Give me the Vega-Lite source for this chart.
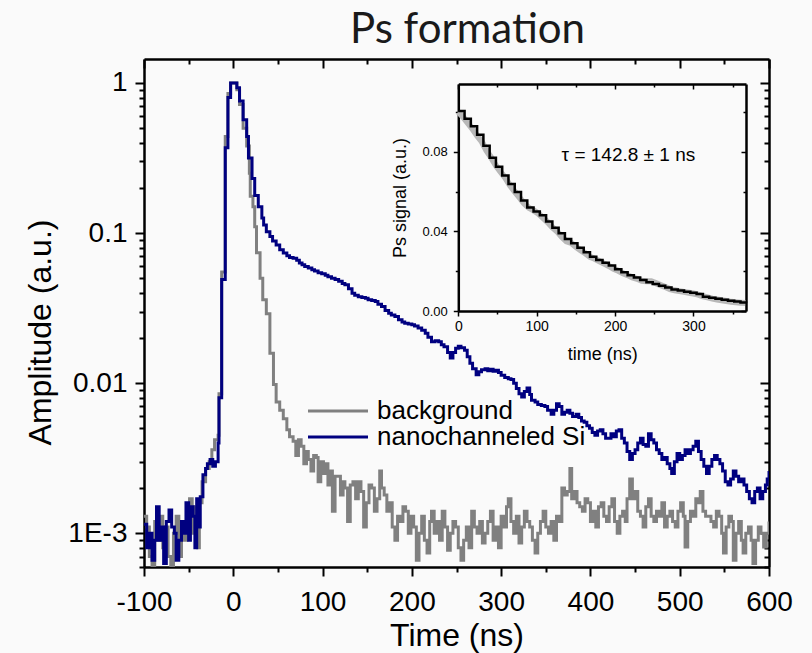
{
"$schema": "https://vega.github.io/schema/vega-lite/v6.json",
"width": 625, "height": 508,
"autosize": {"type": "none"},
"padding": {"left": 144, "top": 59, "right": 43, "bottom": 86},
"background": "#fafafa",
"config": {"view": {"stroke": null}, "font": "Liberation Sans",
  "axis": {"grid": false, "tickColor": "black", "domainColor": "black", "labelColor": "black", "titleColor": "black", "labelFont": "Liberation Sans", "titleFont": "Liberation Sans", "titleFontWeight": "normal", "zindex": 1, "tickWidth": 2, "domainWidth": 2.5, "labelFlush": false, "labelOverlap": false}},
"title": {"text": "Ps formation", "font": "Lato", "fontSize": 42, "fontWeight": "normal", "color": "#1a1a1a", "anchor": "middle", "dx": 11, "offset": -27, "baseline": "alphabetic"},
"datasets": {
"main": [
{"s":"background","t":-100,"v":0.0013},{"s":"background","t":-97,"v":0.0011},{"s":"background","t":-94,"v":0.0007},{"s":"background","t":-91,"v":0.0006},{"s":"background","t":-88,"v":0.0012},{"s":"background","t":-85,"v":0.0009},{"s":"background","t":-82,"v":0.0013},{"s":"background","t":-79,"v":0.0008},{"s":"background","t":-76,"v":0.0011},{"s":"background","t":-73,"v":0.0007},{"s":"background","t":-70,"v":0.0006},{"s":"background","t":-67,"v":0.001},{"s":"background","t":-64,"v":0.0013},{"s":"background","t":-61,"v":0.0007},{"s":"background","t":-58,"v":0.0011},{"s":"background","t":-55,"v":0.0009},{"s":"background","t":-52,"v":0.0014},{"s":"background","t":-49,"v":0.0017},{"s":"background","t":-46,"v":0.001},{"s":"background","t":-43,"v":0.0015},{"s":"background","t":-40,"v":0.0008},{"s":"background","t":-38,"v":0.0016},
{"s":"background","t":-35,"v":0.0022},{"s":"background","t":-31,"v":0.0027},{"s":"background","t":-27,"v":0.003},{"s":"background","t":-24,"v":0.0036},{"s":"background","t":-21,"v":0.0042},{"s":"background","t":-17,"v":0.0045},{"s":"background","t":-16,"v":0.0085},{"s":"background","t":-13,"v":0.055},{"s":"background","t":-9,"v":0.44},{"s":"background","t":-6,"v":0.85},{"s":"background","t":-3,"v":1.0},{"s":"background","t":4,"v":0.9},{"s":"background","t":7,"v":0.72},{"s":"background","t":11,"v":0.5},{"s":"background","t":15,"v":0.38},{"s":"background","t":18,"v":0.25},{"s":"background","t":19,"v":0.176},{"s":"background","t":22,"v":0.15},{"s":"background","t":24,"v":0.11},{"s":"background","t":26,"v":0.074},{"s":"background","t":30,"v":0.05},{"s":"background","t":33,"v":0.036},{"s":"background","t":37,"v":0.029},{"s":"background","t":41,"v":0.0158},{"s":"background","t":45,"v":0.0098},{"s":"background","t":48,"v":0.0075},{"s":"background","t":52,"v":0.0066},{"s":"background","t":56,"v":0.0058},{"s":"background","t":60,"v":0.0049},{"s":"background","t":63,"v":0.0044},{"s":"background","t":67,"v":0.0041},{"s":"background","t":70,"v":0.0033},{"s":"background","t":73,"v":0.0042},{"s":"background","t":76,"v":0.0038},{"s":"background","t":79,"v":0.0029},{"s":"background","t":82,"v":0.0035},{"s":"background","t":84,"v":0.0031},{"s":"background","t":87,"v":0.0026},{"s":"background","t":90,"v":0.0033},{"s":"background","t":93,"v":0.0032},{"s":"background","t":95,"v":0.0022},{"s":"background","t":98,"v":0.003},{"s":"background","t":101,"v":0.0025},{"s":"background","t":103,"v":0.0029},{"s":"background","t":106,"v":0.0021},{"s":"background","t":109,"v":0.0026},{"s":"background","t":111,"v":0.0014},{"s":"background","t":114,"v":0.0024},{"s":"background","t":117,"v":0.0024},{"s":"background","t":120,"v":0.0018},{"s":"background","t":123,"v":0.0022},{"s":"background","t":125,"v":0.002},{"s":"background","t":128,"v":0.0012},{"s":"background","t":131,"v":0.0021},{"s":"background","t":134,"v":0.0022},{"s":"background","t":137,"v":0.0017},{"s":"background","t":140,"v":0.0022},{"s":"background","t":143,"v":0.0019},{"s":"background","t":146,"v":0.0011},{"s":"background","t":149,"v":0.0016},{"s":"background","t":152,"v":0.0021},{"s":"background","t":155,"v":0.002},{"s":"background","t":158,"v":0.0014},{"s":"background","t":161,"v":0.0017},{"s":"background","t":164,"v":0.0026},{"s":"background","t":166,"v":0.002},{"s":"background","t":169,"v":0.0018},{"s":"background","t":172,"v":0.0014},{"s":"background","t":175,"v":0.0016},{"s":"background","t":178,"v":0.0011},{"s":"background","t":181,"v":0.0009},{"s":"background","t":184,"v":0.0013},{"s":"background","t":187,"v":0.0012},{"s":"background","t":190,"v":0.0015},{"s":"background","t":193,"v":0.0014},{"s":"background","t":196,"v":0.001},{"s":"background","t":199,"v":0.0013},{"s":"background","t":202,"v":0.0011},{"s":"background","t":205,"v":0.00066},{"s":"background","t":208,"v":0.001},{"s":"background","t":211,"v":0.0013},{"s":"background","t":214,"v":0.0009},{"s":"background","t":217,"v":0.00074},{"s":"background","t":220,"v":0.0012},{"s":"background","t":222,"v":0.0014},{"s":"background","t":225,"v":0.001},{"s":"background","t":228,"v":0.0012},{"s":"background","t":231,"v":0.0009},{"s":"background","t":234,"v":0.0014},{"s":"background","t":237,"v":0.0011},{"s":"background","t":240,"v":0.00077},{"s":"background","t":243,"v":0.001},{"s":"background","t":246,"v":0.0012},{"s":"background","t":249,"v":0.0011},{"s":"background","t":252,"v":0.0008},{"s":"background","t":255,"v":0.00066},{"s":"background","t":258,"v":0.0009},{"s":"background","t":261,"v":0.0011},{"s":"background","t":264,"v":0.0008},{"s":"background","t":267,"v":0.0014},{"s":"background","t":270,"v":0.0011},{"s":"background","t":273,"v":0.001},{"s":"background","t":276,"v":0.0012},{"s":"background","t":279,"v":0.00086},{"s":"background","t":282,"v":0.001},{"s":"background","t":285,"v":0.0012},{"s":"background","t":288,"v":0.0014},{"s":"background","t":291,"v":0.0009},{"s":"background","t":294,"v":0.0011},{"s":"background","t":297,"v":0.0008},{"s":"background","t":300,"v":0.0013},{"s":"background","t":303,"v":0.0011},{"s":"background","t":306,"v":0.0015},{"s":"background","t":308,"v":0.0017},{"s":"background","t":311,"v":0.0012},{"s":"background","t":314,"v":0.001},{"s":"background","t":317,"v":0.0013},{"s":"background","t":320,"v":0.00086},{"s":"background","t":323,"v":0.0011},{"s":"background","t":326,"v":0.0014},{"s":"background","t":329,"v":0.0012},{"s":"background","t":332,"v":0.0011},{"s":"background","t":335,"v":0.0009},{"s":"background","t":338,"v":0.00074},{"s":"background","t":341,"v":0.001},{"s":"background","t":344,"v":0.0012},{"s":"background","t":347,"v":0.0014},{"s":"background","t":350,"v":0.0011},{"s":"background","t":353,"v":0.001},{"s":"background","t":356,"v":0.0012},{"s":"background","t":359,"v":0.0009},{"s":"background","t":362,"v":0.0013},{"s":"background","t":365,"v":0.0012},{"s":"background","t":368,"v":0.002},{"s":"background","t":371,"v":0.0018},{"s":"background","t":374,"v":0.0019},{"s":"background","t":377,"v":0.0027},{"s":"background","t":379,"v":0.0017},{"s":"background","t":382,"v":0.0019},{"s":"background","t":385,"v":0.0016},{"s":"background","t":388,"v":0.0015},{"s":"background","t":391,"v":0.0014},{"s":"background","t":394,"v":0.0017},{"s":"background","t":397,"v":0.0016},{"s":"background","t":400,"v":0.0012},{"s":"background","t":403,"v":0.0014},{"s":"background","t":406,"v":0.0011},{"s":"background","t":409,"v":0.0015},{"s":"background","t":412,"v":0.0016},{"s":"background","t":415,"v":0.0013},{"s":"background","t":418,"v":0.0012},{"s":"background","t":421,"v":0.0015},{"s":"background","t":424,"v":0.0017},{"s":"background","t":427,"v":0.0012},{"s":"background","t":430,"v":0.001},{"s":"background","t":433,"v":0.0013},{"s":"background","t":436,"v":0.0014},{"s":"background","t":439,"v":0.0012},{"s":"background","t":441,"v":0.0017},{"s":"background","t":444,"v":0.0023},{"s":"background","t":447,"v":0.0017},{"s":"background","t":450,"v":0.0019},{"s":"background","t":453,"v":0.0014},{"s":"background","t":456,"v":0.0013},{"s":"background","t":459,"v":0.0011},{"s":"background","t":462,"v":0.0015},{"s":"background","t":465,"v":0.0017},{"s":"background","t":468,"v":0.0013},{"s":"background","t":471,"v":0.0012},{"s":"background","t":474,"v":0.0014},{"s":"background","t":477,"v":0.0013},{"s":"background","t":480,"v":0.0016},{"s":"background","t":483,"v":0.0011},{"s":"background","t":486,"v":0.0013},{"s":"background","t":489,"v":0.0014},{"s":"background","t":492,"v":0.0012},{"s":"background","t":495,"v":0.0011},{"s":"background","t":498,"v":0.0014},{"s":"background","t":501,"v":0.0016},{"s":"background","t":504,"v":0.0013},{"s":"background","t":506,"v":0.00081},{"s":"background","t":509,"v":0.0012},{"s":"background","t":512,"v":0.0014},{"s":"background","t":515,"v":0.0013},{"s":"background","t":518,"v":0.0017},{"s":"background","t":521,"v":0.0016},{"s":"background","t":523,"v":0.0019},{"s":"background","t":526,"v":0.0014},{"s":"background","t":529,"v":0.0013},{"s":"background","t":532,"v":0.0013},{"s":"background","t":535,"v":0.0012},{"s":"background","t":538,"v":0.0011},{"s":"background","t":541,"v":0.0014},{"s":"background","t":544,"v":0.0013},{"s":"background","t":547,"v":0.001},{"s":"background","t":549,"v":0.00074},{"s":"background","t":552,"v":0.0011},{"s":"background","t":555,"v":0.0013},{"s":"background","t":558,"v":0.0012},{"s":"background","t":560,"v":0.00066},{"s":"background","t":563,"v":0.001},{"s":"background","t":566,"v":0.0012},{"s":"background","t":569,"v":0.0009},{"s":"background","t":571,"v":0.00074},{"s":"background","t":574,"v":0.001},{"s":"background","t":577,"v":0.0011},{"s":"background","t":580,"v":0.0009},{"s":"background","t":582,"v":0.00063},{"s":"background","t":585,"v":0.0009},{"s":"background","t":588,"v":0.0011},{"s":"background","t":591,"v":0.001},{"s":"background","t":594,"v":0.00081},{"s":"background","t":597,"v":0.001},{"s":"background","t":600,"v":0.0012},
{"s":"nanochanneled Si","t":-100,"v":0.00115},{"s":"nanochanneled Si","t":-97,"v":0.0008},{"s":"nanochanneled Si","t":-94,"v":0.001},{"s":"nanochanneled Si","t":-91,"v":0.00066},{"s":"nanochanneled Si","t":-88,"v":0.0009},{"s":"nanochanneled Si","t":-86,"v":0.0015},{"s":"nanochanneled Si","t":-83,"v":0.0009},{"s":"nanochanneled Si","t":-80,"v":0.0011},{"s":"nanochanneled Si","t":-78,"v":0.00063},{"s":"nanochanneled Si","t":-75,"v":0.0012},{"s":"nanochanneled Si","t":-72,"v":0.00143},{"s":"nanochanneled Si","t":-69,"v":0.0011},{"s":"nanochanneled Si","t":-66,"v":0.001},{"s":"nanochanneled Si","t":-64,"v":0.00066},{"s":"nanochanneled Si","t":-61,"v":0.0009},{"s":"nanochanneled Si","t":-58,"v":0.0012},{"s":"nanochanneled Si","t":-55,"v":0.001},{"s":"nanochanneled Si","t":-53,"v":0.0016},{"s":"nanochanneled Si","t":-50,"v":0.0009},{"s":"nanochanneled Si","t":-48,"v":0.0015},{"s":"nanochanneled Si","t":-45,"v":0.0013},{"s":"nanochanneled Si","t":-43,"v":0.0008},{"s":"nanochanneled Si","t":-41,"v":0.0017},{"s":"nanochanneled Si","t":-39,"v":0.0011},
{"s":"nanochanneled Si","t":-37,"v":0.00175},{"s":"nanochanneled Si","t":-34,"v":0.00245},{"s":"nanochanneled Si","t":-31,"v":0.0027},{"s":"nanochanneled Si","t":-29,"v":0.0029},{"s":"nanochanneled Si","t":-26,"v":0.0031},{"s":"nanochanneled Si","t":-23,"v":0.0028},{"s":"nanochanneled Si","t":-20,"v":0.003},{"s":"nanochanneled Si","t":-17,"v":0.004},{"s":"nanochanneled Si","t":-16,"v":0.008},{"s":"nanochanneled Si","t":-13,"v":0.049},{"s":"nanochanneled Si","t":-9,"v":0.37},{"s":"nanochanneled Si","t":-6,"v":0.8},{"s":"nanochanneled Si","t":-3,"v":1.0},{"s":"nanochanneled Si","t":4,"v":0.93},{"s":"nanochanneled Si","t":7,"v":0.76},{"s":"nanochanneled Si","t":11,"v":0.57},{"s":"nanochanneled Si","t":15,"v":0.44},{"s":"nanochanneled Si","t":17,"v":0.316},{"s":"nanochanneled Si","t":21,"v":0.231},{"s":"nanochanneled Si","t":24,"v":0.178},{"s":"nanochanneled Si","t":28,"v":0.15},{"s":"nanochanneled Si","t":32,"v":0.126},{"s":"nanochanneled Si","t":34,"v":0.113},{"s":"nanochanneled Si","t":37,"v":0.102},{"s":"nanochanneled Si","t":41,"v":0.095},{"s":"nanochanneled Si","t":44,"v":0.0886},{"s":"nanochanneled Si","t":48,"v":0.0832},{"s":"nanochanneled Si","t":52,"v":0.0774},{"s":"nanochanneled Si","t":56,"v":0.0736},{"s":"nanochanneled Si","t":60,"v":0.0705},{"s":"nanochanneled Si","t":63,"v":0.0688},{"s":"nanochanneled Si","t":67,"v":0.068},{"s":"nanochanneled Si","t":71,"v":0.066},{"s":"nanochanneled Si","t":74,"v":0.0631},{"s":"nanochanneled Si","t":77,"v":0.0615},{"s":"nanochanneled Si","t":80,"v":0.0599},{"s":"nanochanneled Si","t":84,"v":0.0585},{"s":"nanochanneled Si","t":88,"v":0.057},{"s":"nanochanneled Si","t":91,"v":0.0558},{"s":"nanochanneled Si","t":95,"v":0.0545},{"s":"nanochanneled Si","t":99,"v":0.0535},{"s":"nanochanneled Si","t":103,"v":0.0524},{"s":"nanochanneled Si","t":106,"v":0.0512},{"s":"nanochanneled Si","t":110,"v":0.05},{"s":"nanochanneled Si","t":114,"v":0.049},{"s":"nanochanneled Si","t":118,"v":0.0478},{"s":"nanochanneled Si","t":122,"v":0.0462},{"s":"nanochanneled Si","t":125,"v":0.0452},{"s":"nanochanneled Si","t":129,"v":0.0425},{"s":"nanochanneled Si","t":133,"v":0.0398},{"s":"nanochanneled Si","t":136,"v":0.0385},{"s":"nanochanneled Si","t":140,"v":0.0377},{"s":"nanochanneled Si","t":144,"v":0.0372},{"s":"nanochanneled Si","t":148,"v":0.0368},{"s":"nanochanneled Si","t":151,"v":0.036},{"s":"nanochanneled Si","t":155,"v":0.0355},{"s":"nanochanneled Si","t":159,"v":0.035},{"s":"nanochanneled Si","t":162,"v":0.0335},{"s":"nanochanneled Si","t":166,"v":0.0324},{"s":"nanochanneled Si","t":170,"v":0.0305},{"s":"nanochanneled Si","t":174,"v":0.0292},{"s":"nanochanneled Si","t":177,"v":0.0285},{"s":"nanochanneled Si","t":181,"v":0.0278},{"s":"nanochanneled Si","t":185,"v":0.0265},{"s":"nanochanneled Si","t":189,"v":0.0256},{"s":"nanochanneled Si","t":192,"v":0.0251},{"s":"nanochanneled Si","t":196,"v":0.0248},{"s":"nanochanneled Si","t":200,"v":0.0245},{"s":"nanochanneled Si","t":203,"v":0.024},{"s":"nanochanneled Si","t":207,"v":0.0233},{"s":"nanochanneled Si","t":211,"v":0.0225},{"s":"nanochanneled Si","t":215,"v":0.0215},{"s":"nanochanneled Si","t":218,"v":0.0202},{"s":"nanochanneled Si","t":222,"v":0.0189},{"s":"nanochanneled Si","t":226,"v":0.0192},{"s":"nanochanneled Si","t":230,"v":0.0189},{"s":"nanochanneled Si","t":233,"v":0.018},{"s":"nanochanneled Si","t":236,"v":0.0175},{"s":"nanochanneled Si","t":240,"v":0.016},{"s":"nanochanneled Si","t":243,"v":0.0147},{"s":"nanochanneled Si","t":246,"v":0.016},{"s":"nanochanneled Si","t":249,"v":0.0171},{"s":"nanochanneled Si","t":252,"v":0.0176},{"s":"nanochanneled Si","t":255,"v":0.0172},{"s":"nanochanneled Si","t":259,"v":0.0166},{"s":"nanochanneled Si","t":262,"v":0.015},{"s":"nanochanneled Si","t":265,"v":0.0136},{"s":"nanochanneled Si","t":268,"v":0.0125},{"s":"nanochanneled Si","t":272,"v":0.0114},{"s":"nanochanneled Si","t":275,"v":0.0119},{"s":"nanochanneled Si","t":278,"v":0.0123},{"s":"nanochanneled Si","t":282,"v":0.0125},{"s":"nanochanneled Si","t":285,"v":0.0121},{"s":"nanochanneled Si","t":288,"v":0.0124},{"s":"nanochanneled Si","t":291,"v":0.012},{"s":"nanochanneled Si","t":294,"v":0.0122},{"s":"nanochanneled Si","t":297,"v":0.0118},{"s":"nanochanneled Si","t":300,"v":0.0113},{"s":"nanochanneled Si","t":304,"v":0.0109},{"s":"nanochanneled Si","t":308,"v":0.0107},{"s":"nanochanneled Si","t":311,"v":0.0106},{"s":"nanochanneled Si","t":314,"v":0.01},{"s":"nanochanneled Si","t":317,"v":0.0092},{"s":"nanochanneled Si","t":320,"v":0.0085},{"s":"nanochanneled Si","t":323,"v":0.0081},{"s":"nanochanneled Si","t":326,"v":0.0088},{"s":"nanochanneled Si","t":329,"v":0.0093},{"s":"nanochanneled Si","t":332,"v":0.0084},{"s":"nanochanneled Si","t":334,"v":0.0077},{"s":"nanochanneled Si","t":338,"v":0.0075},{"s":"nanochanneled Si","t":341,"v":0.0072},{"s":"nanochanneled Si","t":345,"v":0.0071},{"s":"nanochanneled Si","t":349,"v":0.007},{"s":"nanochanneled Si","t":352,"v":0.0066},{"s":"nanochanneled Si","t":356,"v":0.0062},{"s":"nanochanneled Si","t":359,"v":0.0066},{"s":"nanochanneled Si","t":362,"v":0.0073},{"s":"nanochanneled Si","t":365,"v":0.007},{"s":"nanochanneled Si","t":368,"v":0.0062},{"s":"nanochanneled Si","t":371,"v":0.0064},{"s":"nanochanneled Si","t":374,"v":0.0066},{"s":"nanochanneled Si","t":377,"v":0.0063},{"s":"nanochanneled Si","t":380,"v":0.006},{"s":"nanochanneled Si","t":384,"v":0.0062},{"s":"nanochanneled Si","t":387,"v":0.0059},{"s":"nanochanneled Si","t":390,"v":0.0056},{"s":"nanochanneled Si","t":393,"v":0.0055},{"s":"nanochanneled Si","t":396,"v":0.0052},{"s":"nanochanneled Si","t":399,"v":0.005},{"s":"nanochanneled Si","t":402,"v":0.0047},{"s":"nanochanneled Si","t":405,"v":0.0045},{"s":"nanochanneled Si","t":408,"v":0.0048},{"s":"nanochanneled Si","t":411,"v":0.0049},{"s":"nanochanneled Si","t":414,"v":0.0046},{"s":"nanochanneled Si","t":417,"v":0.0043},{"s":"nanochanneled Si","t":420,"v":0.0043},{"s":"nanochanneled Si","t":423,"v":0.0046},{"s":"nanochanneled Si","t":426,"v":0.0044},{"s":"nanochanneled Si","t":429,"v":0.0048},{"s":"nanochanneled Si","t":432,"v":0.0049},{"s":"nanochanneled Si","t":435,"v":0.0043},{"s":"nanochanneled Si","t":438,"v":0.004},{"s":"nanochanneled Si","t":441,"v":0.0035},{"s":"nanochanneled Si","t":444,"v":0.0031},{"s":"nanochanneled Si","t":447,"v":0.0034},{"s":"nanochanneled Si","t":450,"v":0.0036},{"s":"nanochanneled Si","t":453,"v":0.004},{"s":"nanochanneled Si","t":456,"v":0.0043},{"s":"nanochanneled Si","t":459,"v":0.0039},{"s":"nanochanneled Si","t":462,"v":0.0038},{"s":"nanochanneled Si","t":465,"v":0.0046},{"s":"nanochanneled Si","t":468,"v":0.0042},{"s":"nanochanneled Si","t":471,"v":0.004},{"s":"nanochanneled Si","t":474,"v":0.0036},{"s":"nanochanneled Si","t":477,"v":0.0034},{"s":"nanochanneled Si","t":480,"v":0.0031},{"s":"nanochanneled Si","t":483,"v":0.0032},{"s":"nanochanneled Si","t":486,"v":0.0029},{"s":"nanochanneled Si","t":489,"v":0.0027},{"s":"nanochanneled Si","t":491,"v":0.0025},{"s":"nanochanneled Si","t":494,"v":0.003},{"s":"nanochanneled Si","t":497,"v":0.0034},{"s":"nanochanneled Si","t":500,"v":0.0031},{"s":"nanochanneled Si","t":503,"v":0.0033},{"s":"nanochanneled Si","t":506,"v":0.0036},{"s":"nanochanneled Si","t":509,"v":0.0034},{"s":"nanochanneled Si","t":512,"v":0.0036},{"s":"nanochanneled Si","t":515,"v":0.0038},{"s":"nanochanneled Si","t":518,"v":0.0041},{"s":"nanochanneled Si","t":521,"v":0.0035},{"s":"nanochanneled Si","t":524,"v":0.0031},{"s":"nanochanneled Si","t":527,"v":0.0028},{"s":"nanochanneled Si","t":530,"v":0.0025},{"s":"nanochanneled Si","t":533,"v":0.0028},{"s":"nanochanneled Si","t":536,"v":0.0031},{"s":"nanochanneled Si","t":539,"v":0.0033},{"s":"nanochanneled Si","t":542,"v":0.0031},{"s":"nanochanneled Si","t":545,"v":0.0029},{"s":"nanochanneled Si","t":548,"v":0.0026},{"s":"nanochanneled Si","t":551,"v":0.0022},{"s":"nanochanneled Si","t":554,"v":0.0021},{"s":"nanochanneled Si","t":557,"v":0.0023},{"s":"nanochanneled Si","t":560,"v":0.0026},{"s":"nanochanneled Si","t":563,"v":0.0024},{"s":"nanochanneled Si","t":566,"v":0.0022},{"s":"nanochanneled Si","t":569,"v":0.0023},{"s":"nanochanneled Si","t":572,"v":0.0021},{"s":"nanochanneled Si","t":575,"v":0.0019},{"s":"nanochanneled Si","t":578,"v":0.0017},{"s":"nanochanneled Si","t":581,"v":0.0016},{"s":"nanochanneled Si","t":584,"v":0.0019},{"s":"nanochanneled Si","t":587,"v":0.002},{"s":"nanochanneled Si","t":590,"v":0.0017},{"s":"nanochanneled Si","t":593,"v":0.0019},{"s":"nanochanneled Si","t":596,"v":0.0021},{"s":"nanochanneled Si","t":598,"v":0.0023},{"s":"nanochanneled Si","t":600,"v":0.0026}
],
"inset": [
{"t":0,"v":0.1},{"t":6,"v":0.0975},{"t":12,"v":0.0945},{"t":18,"v":0.0915},{"t":24,"v":0.088},{"t":30,"v":0.085},{"t":36,"v":0.0805},{"t":42,"v":0.077},{"t":48,"v":0.073},{"t":54,"v":0.0698},{"t":60,"v":0.0668},{"t":66,"v":0.063},{"t":72,"v":0.06},{"t":78,"v":0.057},{"t":84,"v":0.054},{"t":90,"v":0.0518},{"t":96,"v":0.0505},{"t":102,"v":0.049},{"t":108,"v":0.0468},{"t":114,"v":0.0446},{"t":120,"v":0.042},{"t":126,"v":0.04},{"t":132,"v":0.0372},{"t":138,"v":0.035},{"t":144,"v":0.0342},{"t":150,"v":0.0322},{"t":156,"v":0.0305},{"t":162,"v":0.029},{"t":168,"v":0.0272},{"t":174,"v":0.0262},{"t":180,"v":0.025},{"t":186,"v":0.0238},{"t":192,"v":0.0226},{"t":198,"v":0.0212},{"t":204,"v":0.0202},{"t":210,"v":0.019},{"t":216,"v":0.018},{"t":222,"v":0.0168},{"t":228,"v":0.0162},{"t":234,"v":0.0152},{"t":240,"v":0.015},{"t":246,"v":0.015},{"t":252,"v":0.014},{"t":258,"v":0.013},{"t":264,"v":0.012},{"t":270,"v":0.011},{"t":276,"v":0.0104},{"t":282,"v":0.01},{"t":288,"v":0.0096},{"t":294,"v":0.0092},{"t":300,"v":0.0088},{"t":306,"v":0.0082},{"t":312,"v":0.0074},{"t":318,"v":0.0068},{"t":324,"v":0.0062},{"t":330,"v":0.0058},{"t":336,"v":0.0054},{"t":342,"v":0.005},{"t":348,"v":0.0046},{"t":354,"v":0.0044},{"t":360,"v":0.0042},{"t":366,"v":0.004}
],
"fit": [
{"t":0,"v":0.1005},{"t":8,"v":0.0965},{"t":16,"v":0.0928},{"t":24,"v":0.0885},{"t":32,"v":0.083},{"t":40,"v":0.077},{"t":48,"v":0.0725},{"t":56,"v":0.068},{"t":64,"v":0.0638},{"t":72,"v":0.0598},{"t":80,"v":0.0555},{"t":88,"v":0.052},{"t":96,"v":0.05},{"t":104,"v":0.0481},{"t":112,"v":0.045},{"t":120,"v":0.0418},{"t":128,"v":0.039},{"t":136,"v":0.0362},{"t":144,"v":0.034},{"t":152,"v":0.0318},{"t":160,"v":0.0295},{"t":168,"v":0.0272},{"t":176,"v":0.0256},{"t":184,"v":0.0242},{"t":192,"v":0.0228},{"t":200,"v":0.021},{"t":208,"v":0.0194},{"t":216,"v":0.018},{"t":224,"v":0.0168},{"t":232,"v":0.0156},{"t":240,"v":0.0145},{"t":248,"v":0.0136},{"t":256,"v":0.0127},{"t":264,"v":0.0118},{"t":272,"v":0.0108},{"t":280,"v":0.0103},{"t":288,"v":0.0097},{"t":296,"v":0.0092},{"t":304,"v":0.0085},{"t":312,"v":0.0072},{"t":320,"v":0.0066},{"t":328,"v":0.0061},{"t":336,"v":0.0056},{"t":344,"v":0.0052},{"t":352,"v":0.0048},{"t":360,"v":0.0043},{"t":367,"v":0.004}
],
"dummy": [{"t": 0, "v": 0.01}],
"note": [{"label": "τ = 142.8 ± 1 ns", "t": 217, "v": 0.0782}]
},
"layer": [
{"data": {"name": "main"},
 "mark": {"type": "line", "interpolate": "step-after", "strokeWidth": 3, "clip": true},
 "encoding": {
  "x": {"field": "t", "type": "quantitative", "scale": {"domain": [-100, 600], "nice": false, "zero": false},
   "axis": {"orient": "bottom", "values": [-100,0,100,200,300,400,500,600], "labelExpr": "'' + datum.value", "tickSize": 9, "labelFontSize": 28, "labelPadding": 12, "title": "Time (ns)", "titleFontSize": 32, "titlePadding": 4}},
  "y": {"field": "v", "type": "quantitative", "scale": {"type": "log", "domain": [0.000596, 1.445], "nice": false},
   "axis": {"orient": "left", "values": [0.001,0.01,0.1,1], "labelExpr": "datum.value >= 0.5 ? '1' : datum.value >= 0.05 ? '0.1' : datum.value >= 0.005 ? '0.01' : '1E-3'", "tickSize": 9, "labelFontSize": 28, "labelPadding": 8, "title": "Amplitude (a.u.)", "titleFontSize": 32, "titlePadding": 10, "titleY": 273}},
  "color": {"field": "s", "type": "nominal", "scale": {"domain": ["background", "nanochanneled Si"], "range": ["#808080", "#000080"]},
   "legend": {"orient": "none", "legendX": 161, "legendY": 339, "title": null, "symbolType": "M-1,0H5", "symbolSize": 400, "symbolStrokeWidth": 3, "labelFontSize": 26, "labelFont": "Liberation Sans", "labelColor": "black", "labelOffset": 46, "labelLimit": 400, "rowPadding": 0, "padding": 0}}
 }},
{"data": {"name": "dummy"}, "mark": {"type": "point", "opacity": 0},
 "encoding": {
  "x": {"field": "t", "type": "quantitative", "scale": {"domain": [-100, 600], "nice": false, "zero": false},
   "axis": {"orient": "bottom", "values": [-50,50,150,250,350,450,550], "tickSize": 5, "labels": false, "domain": false, "title": null}},
  "y": {"field": "v", "type": "quantitative", "scale": {"type": "log", "domain": [0.000596, 1.445], "nice": false},
   "axis": {"orient": "left", "values": [0.0006,0.0007,0.0008,0.0009,0.002,0.003,0.004,0.005,0.006,0.007,0.008,0.009,0.02,0.03,0.04,0.05,0.06,0.07,0.08,0.09,0.2,0.3,0.4,0.5,0.6,0.7,0.8,0.9], "tickSize": 5, "labels": false, "domain": false, "title": null}}
 }},
{"data": {"name": "dummy"}, "mark": {"type": "point", "opacity": 0},
 "encoding": {
  "x": {"field": "t", "type": "quantitative", "scale": {"domain": [-100, 600], "nice": false, "zero": false},
   "axis": {"orient": "top", "values": [-100,0,100,200,300,400,500,600], "tickSize": -9, "labels": false, "title": null}},
  "y": {"field": "v", "type": "quantitative", "scale": {"type": "log", "domain": [0.000596, 1.445], "nice": false},
   "axis": {"orient": "right", "values": [0.001,0.01,0.1,1], "tickSize": -9, "labels": false, "title": null}}
 }},
{"data": {"name": "dummy"}, "mark": {"type": "point", "opacity": 0},
 "encoding": {
  "x": {"field": "t", "type": "quantitative", "scale": {"domain": [-100, 600], "nice": false, "zero": false},
   "axis": {"orient": "top", "values": [-50,50,150,250,350,450,550], "tickSize": -5, "labels": false, "domain": false, "title": null}},
  "y": {"field": "v", "type": "quantitative", "scale": {"type": "log", "domain": [0.000596, 1.445], "nice": false},
   "axis": {"orient": "right", "values": [0.0006,0.0007,0.0008,0.0009,0.002,0.003,0.004,0.005,0.006,0.007,0.008,0.009,0.02,0.03,0.04,0.05,0.06,0.07,0.08,0.09,0.2,0.3,0.4,0.5,0.6,0.7,0.8,0.9], "tickSize": -5, "labels": false, "domain": false, "title": null}}
 }},
{"data": {"name": "inset"}, "mark": {"type": "line", "strokeWidth": 6, "color": "#b8b8b8"},
 "encoding": {
  "x": {"field": "t", "type": "quantitative", "scale": {"domain": [0, 367], "range": [314.3, 602], "nice": false, "zero": false},
   "axis": {"orient": "bottom", "offset": -256, "values": [0,100,200,300], "tickSize": 5, "tickWidth": 1.5, "labelFontSize": 14, "labelPadding": 3, "title": "time (ns)", "titleFontSize": 18, "titlePadding": 12}},
  "y": {"field": "v", "type": "quantitative", "scale": {"domain": [0, 0.114], "range": [252, 25], "nice": false, "zero": false},
   "axis": {"orient": "left", "offset": -314.3, "values": [0,0.04,0.08], "format": ".2f", "tickSize": 5, "tickWidth": 1.5, "labelFontSize": 13, "labelPadding": 6, "title": "Ps signal (a.u.)", "titleFontSize": 18, "titlePadding": 12}}
 }},
{"data": {"name": "fit"}, "mark": {"type": "line", "interpolate": "step-after", "strokeWidth": 2.5, "color": "black"},
 "encoding": {
  "x": {"field": "t", "type": "quantitative", "scale": {"domain": [0, 367], "range": [314.3, 602], "nice": false, "zero": false}, "axis": null},
  "y": {"field": "v", "type": "quantitative", "scale": {"domain": [0, 0.114], "range": [252, 25], "nice": false, "zero": false}, "axis": null}
 }},
{"data": {"name": "dummy"}, "mark": {"type": "point", "opacity": 0},
 "encoding": {
  "x": {"field": "t", "type": "quantitative", "scale": {"domain": [0, 367], "range": [314.3, 602], "nice": false, "zero": false},
   "axis": {"orient": "bottom", "offset": -256, "values": [50,150,250,350], "tickSize": 3, "tickWidth": 1.5, "labels": false, "domain": false, "title": null}},
  "y": {"field": "v", "type": "quantitative", "scale": {"domain": [0, 0.114], "range": [252, 25], "nice": false, "zero": false},
   "axis": {"orient": "left", "offset": -314.3, "values": [0.02,0.06,0.1], "tickSize": 3, "tickWidth": 1.5, "labels": false, "domain": false, "title": null}}
 }},
{"data": {"name": "dummy"}, "mark": {"type": "point", "opacity": 0},
 "encoding": {
  "x": {"field": "t", "type": "quantitative", "scale": {"domain": [0, 367], "range": [314.3, 602], "nice": false, "zero": false},
   "axis": {"orient": "top", "offset": -25, "values": [0,100,200,300], "tickSize": -5, "tickWidth": 1.5, "labels": false, "title": null}},
  "y": {"field": "v", "type": "quantitative", "scale": {"domain": [0, 0.114], "range": [252, 25], "nice": false, "zero": false},
   "axis": {"orient": "right", "offset": -23, "values": [0,0.04,0.08], "tickSize": -5, "tickWidth": 1.5, "labels": false, "title": null}}
 }},
{"data": {"name": "dummy"}, "mark": {"type": "point", "opacity": 0},
 "encoding": {
  "x": {"field": "t", "type": "quantitative", "scale": {"domain": [0, 367], "range": [314.3, 602], "nice": false, "zero": false},
   "axis": {"orient": "top", "offset": -25, "values": [50,150,250,350], "tickSize": -3, "tickWidth": 1.5, "labels": false, "domain": false, "title": null}},
  "y": {"field": "v", "type": "quantitative", "scale": {"domain": [0, 0.114], "range": [252, 25], "nice": false, "zero": false},
   "axis": {"orient": "right", "offset": -23, "values": [0.02,0.06,0.1], "tickSize": -3, "tickWidth": 1.5, "labels": false, "domain": false, "title": null}}
 }},
{"data": {"name": "note"}, "mark": {"type": "text", "fontSize": 19, "font": "Liberation Sans", "color": "black", "align": "center", "baseline": "middle"},
 "encoding": {
  "x": {"field": "t", "type": "quantitative", "scale": {"domain": [0, 367], "range": [314.3, 602], "nice": false, "zero": false}, "axis": null},
  "y": {"field": "v", "type": "quantitative", "scale": {"domain": [0, 0.114], "range": [252, 25], "nice": false, "zero": false}, "axis": null},
  "text": {"field": "label"}
 }}
],
"resolve": {"scale": {"x": "independent", "y": "independent"}, "axis": {"x": "independent", "y": "independent"}}
}
